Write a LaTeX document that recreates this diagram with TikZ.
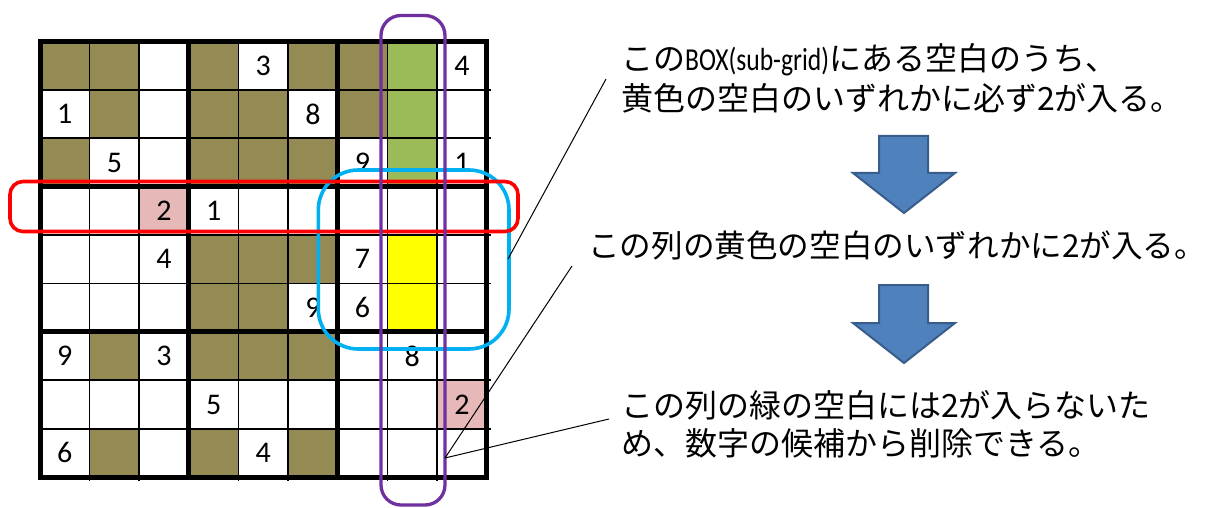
\documentclass[tikz,border=0pt]{standalone}
\usepackage{fontspec}
\setmainfont{Carlito}
\newfontfamily\jp{Noto Sans CJK JP}
\newfontfamily\lat{Carlito}
\newfontfamily\latn[FakeStretch=0.8]{Carlito}
\definecolor{olivec}{HTML}{948A54}
\definecolor{greenc}{HTML}{9BBB59}
\definecolor{yellowc}{HTML}{FFFF00}
\definecolor{pinkc}{HTML}{E6B9B8}
\definecolor{arrowfill}{HTML}{4F81BD}
\definecolor{arrowline}{HTML}{385D8A}
\definecolor{cyanc}{HTML}{00B0F0}
\definecolor{purplec}{HTML}{7030A0}
\definecolor{redc}{HTML}{FF0000}
\begin{document}
\begin{tikzpicture}[x=1pt,y=-1pt,
  digit/.style={font=\lat\fontsize{30}{34}\selectfont, inner sep=0pt},
  jptext/.style={font=\jp\fontsize{32}{38}\selectfont, inner sep=0pt, anchor=base west},
  thinline/.style={line width=1.7pt, black},
  thickline/.style={line width=5pt, black, line cap=rect},
  callout/.style={line width=1pt, black},
  bigarrow/.style={fill=arrowfill, draw=arrowline, line width=2pt, line join=miter},
  hilite/.style={rounded corners=#1, fill=none}
]
\useasboundingbox (0,0) rectangle (1211,508);
\fill[white] (0,0) rectangle (1211,508);
\def\W{49.63}
\def\H{48.4}
% cell fills
\foreach \c/\r in {1/1,2/1,4/1,6/1,7/1, 2/2,4/2,5/2,7/2, 1/3,4/3,5/3,6/3, 4/5,5/5,6/5, 4/6,5/6, 2/7,4/7,5/7,6/7, 2/9,4/9,6/9}
  \fill[olivec] ({40+(\c-1)*\W},{41.5+(\r-1)*\H}) rectangle +(\W,\H);
\foreach \c/\r in {8/1,8/2,8/3}
  \fill[greenc] ({40+(\c-1)*\W},{41.5+(\r-1)*\H}) rectangle +(\W,\H);
\foreach \c/\r in {8/5,8/6}
  \fill[yellowc] ({40+(\c-1)*\W},{41.5+(\r-1)*\H}) rectangle +(\W,\H);
\foreach \c/\r in {3/4,9/8}
  \fill[pinkc] ({40+(\c-1)*\W},{41.5+(\r-1)*\H}) rectangle +(\W,\H);
% thin grid lines
\foreach \i in {1,2,4,5,7,8} {
  \draw[thinline] ({40+\i*\W},41.5) -- ({40+\i*\W},481);
  \draw[thinline] (40,{41.5+\i*\H}) -- (490.5,{41.5+\i*\H});
}
% thick grid lines
\foreach \i in {0,3,6,9} {
  \draw[thickline] ({40+\i*\W},41.5) -- ({40+\i*\W},{41.5+9*\H});
  \draw[thickline] (40,{41.5+\i*\H}) -- ({40+9*\W},{41.5+\i*\H});
}
% digits
\foreach \c/\r/\d in {5/1/3, 9/1/4, 1/2/1, 6/2/8, 2/3/5, 7/3/9, 9/3/1, 3/4/2, 4/4/1, 3/5/4, 7/5/7, 6/6/9, 7/6/6, 1/7/9, 3/7/3, 8/7/8, 4/8/5, 9/8/2, 1/9/6, 5/9/4}
  \node[digit] (d\c\r) at ({40+(\c-0.5)*\W},{41.5+(\r-0.5)*\H}) {\d};
% highlight frames
\draw[cyanc, line width=3.6pt, hilite=40pt] (318.3,170) rectangle (509,349);
\draw[redc, line width=3.6pt, hilite=13pt] (10,181.5) rectangle (518,231.5);
\draw[purplec, line width=3.3pt, hilite=20pt] (381,15.5) rectangle (445,505);
% texts
\node[jptext] (t1) at (621,71) {この{\latn BOX(sub-grid)}にある空白のうち、};
\node[jptext] (t2) at (621,111) {黄色の空白のいずれかに必ず2が入る。};
\node[jptext, font=\jp\fontsize{31.6}{38}\selectfont] (t3) at (588,257) {この列の黄色の空白のいずれかに2が入る。};
\node[jptext] (t4) at (621,417) {この列の緑の空白には2が入らないた};
\node[jptext] (t5) at (621,455) {め、数字の候補から削除できる。};
% arrows
\draw[bigarrow] (879,136) -- (928,136) -- (928,173) -- (955,173) -- (904,213) -- (853,173) -- (879,173) -- cycle;
\draw[bigarrow] (879,285) -- (928,285) -- (928,323) -- (955,323) -- (904,363) -- (853,323) -- (879,323) -- cycle;
% callout lines
\coordinate (c1a) at (606,79);
\coordinate (c1b) at (508,259);
\coordinate (c2a) at (572,266);
\coordinate (c3a) at (609,419);
\coordinate (cend) at (445,458);
\draw[callout] (c1a) -- (c1b);
\draw[callout] (c2a) -- (cend);
\draw[callout] (c3a) -- (cend);
\end{tikzpicture}
\end{document}
